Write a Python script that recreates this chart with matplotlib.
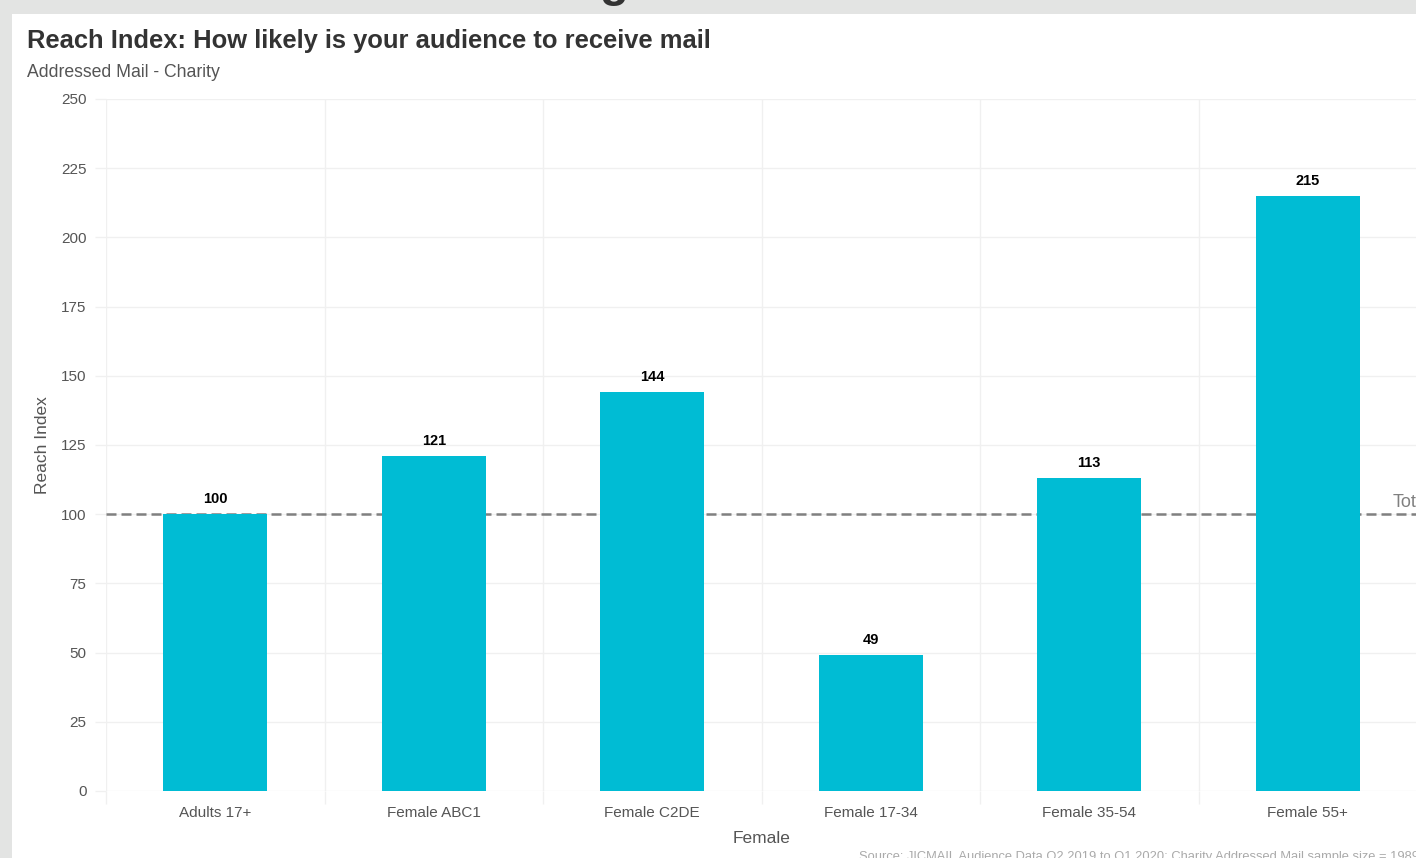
import numpy as np
import matplotlib.pyplot as plt
from matplotlib.patches import Rectangle

# datos del gráfico
categorias = ['Adults 17+', 'Female ABC1', 'Female C2DE', 'Female 17-34', 'Female 35-54', 'Female 55+']
reach_index = [100, 121, 144, 49, 113, 215]
linea_total = 100
y_ticks = [0, 25, 50, 75, 100, 125, 150, 175, 200, 225, 250]

plt.rcParams['font.family'] = ['Liberation Sans', 'DejaVu Sans']

W, H = 1416, 858
fig = plt.figure(figsize=(W / 100, H / 100), dpi=100)
fig.patch.set_facecolor('#e3e4e3')

# panel blanco (detrás de los ejes)
fig.patches.append(Rectangle((12 / W, 0), 1, 1 - 14 / H, transform=fig.transFigure,
                             facecolor='white', edgecolor='none', zorder=-5))

# trozo de la letra cortada arriba
fig.text(614 / W, 1 + 4 / H, 'g', fontsize=34, fontweight='bold', color='#333333',
         ha='center', va='baseline')

fig.text(27 / W, 1 - 48 / H, 'Reach Index: How likely is your audience to receive mail',
         fontsize=18.4, fontweight='bold', color='#333333', ha='left', va='baseline')
fig.text(27 / W, 1 - 77 / H, 'Addressed Mail - Charity',
         fontsize=12.7, color='#555555', ha='left', va='baseline')

ax = fig.add_axes([106 / W, 67 / H, 1311 / W, 692 / H])
ax.set_facecolor('none')

x = np.arange(len(categorias))
ax.axhline(linea_total, color='#808080', linestyle=(0, (4, 2)), linewidth=1.8, zorder=1)
barras = ax.bar(x, reach_index, width=0.475, color='#00bcd4', zorder=2)
for xi, v in zip(x, reach_index):
    ax.annotate(str(v), (xi, v), xytext=(0, 6), textcoords='offset points',
                ha='center', va='bottom', fontsize=10.5, fontweight='bold', color='black')

ax.text(5.39, 102.6, 'Total', fontsize=13, color='#808080', ha='left', va='baseline',
        clip_on=False)

ax.set_xlim(-0.5, 5.5)
ax.set_ylim(0, 250)
ax.set_yticks(y_ticks)
ax.set_xticks(x)
ax.set_xticklabels(categorias)
ax.set_xticks(np.arange(-0.5, 6.0, 1.0), minor=True)

ax.grid(True, axis='y', color='#f0f0f0', linewidth=1, zorder=0)
ax.grid(True, axis='x', which='minor', color='#f0f0f0', linewidth=1, zorder=0)
ax.set_axisbelow(True)

ax.tick_params(axis='x', which='major', length=0, pad=11, labelsize=11, labelcolor='#555555')
ax.tick_params(axis='x', which='minor', length=9, width=1, color='#f0f0f0')
ax.tick_params(axis='y', length=8, width=1, color='#f0f0f0', pad=6, labelsize=11,
               labelcolor='#555555')

for s in ax.spines.values():
    s.set_visible(False)

ax.set_xlabel('Female', fontsize=12.5, color='#555555', labelpad=8)
ax.set_ylabel('Reach Index', fontsize=12.5, color='#555555', labelpad=8)

fig.text(859 / W, -2 / H,
         'Source: JICMAIL Audience Data Q2 2019 to Q1 2020; Charity Addressed Mail sample size = 1989',
         fontsize=9.3, color='#aaaaaa', ha='left', va='baseline')

fig.savefig('out.png', dpi=100)
